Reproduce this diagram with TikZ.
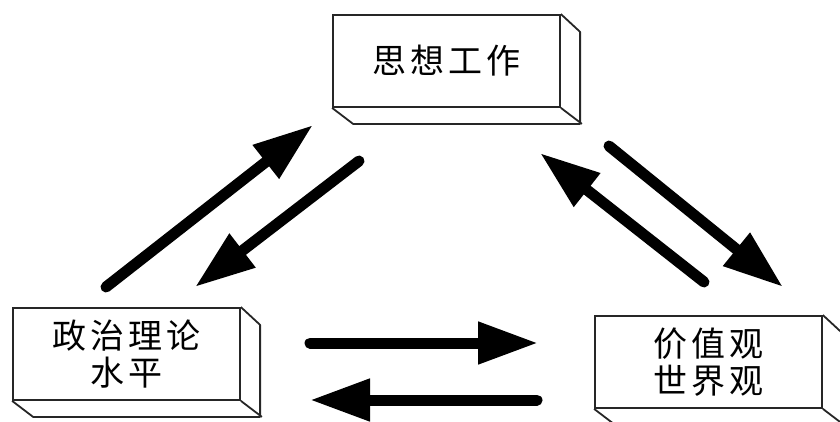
\documentclass[tikz,border=0pt]{standalone}
\usepackage{fontspec}
\newfontfamily\cjk[LetterSpace=12]{Noto Sans CJK SC}
\usetikzlibrary{arrows.meta}
\begin{document}
\begin{tikzpicture}[x=1pt,y=-1pt,
  box/.style={draw=black!85,line width=1.8pt,minimum width=227pt,minimum height=92pt,inner sep=0pt,align=center,
    font=\cjk\fontsize{34}{37}\selectfont},
  boxline/.style={draw=black!85,line width=1.8pt,line join=round},
  bigarrow/.style={line width=11pt,line cap=round,-{Triangle[length=60pt,width=40pt]}}]
\useasboundingbox (0,0) rectangle (840,421);
\clip (0,0) rectangle (840,421);
\node[box] (t) at (446.5,61) {思想工作};
\node[box] (l) at (126.5,354) {政治理论\\水平};
\node[box] (r) at (708.5,362) {价值观\\世界观};
\foreach \n in {t,l,r}{
  \draw[boxline] (\n.south west) -- ++(21,16) -- ++(227,0) -- ++(0,-92) -- (\n.north east);
  \draw[boxline] (\n.south east) -- ++(21,16);
}
\coordinate (a1s) at (106,287); \coordinate (a1e) at (313,125);
\coordinate (a2s) at (359,161); \coordinate (a2e) at (195,287);
\coordinate (a3s) at (704,282); \coordinate (a3e) at (540,153);
\coordinate (a4s) at (609,146); \coordinate (a4e) at (783,287);
\coordinate (a5s) at (310,343); \coordinate (a5e) at (538,343);
\coordinate (a6s) at (537,400); \coordinate (a6e) at (310,400);
\draw[bigarrow] (a1s) -- (a1e);
\draw[bigarrow] (a2s) -- (a2e);
\draw[bigarrow] (a3s) -- (a3e);
\draw[bigarrow] (a4s) -- (a4e);
\draw[bigarrow] (a5s) -- (a5e);
\draw[bigarrow] (a6s) -- (a6e);
\end{tikzpicture}
\end{document}
